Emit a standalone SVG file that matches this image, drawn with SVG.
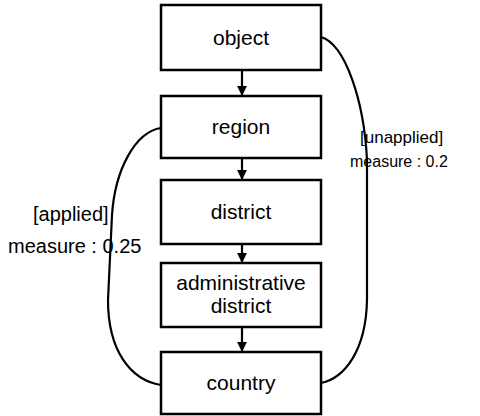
<svg xmlns="http://www.w3.org/2000/svg" width="480" height="416" viewBox="0 0 480 416">
<style>
.box{fill:#fff;stroke:#000;stroke-width:2.5}
.t{font-family:"Liberation Sans",Arial,sans-serif;font-size:21px;fill:#000;text-anchor:middle}
.lbl{font-family:"Liberation Sans",Arial,sans-serif;fill:#000}
.edge{fill:none;stroke:#000;stroke-width:2.2}
</style>
<defs>
<marker id="ah" viewBox="0 0 10 10" refX="10" refY="5" markerWidth="4.5" markerHeight="4.5" orient="auto" markerUnits="strokeWidth">
<path d="M0,0 L10,5 L0,10 z" fill="#000"/>
</marker>
</defs>
<rect width="480" height="416" fill="#fff"/>
<g id="connectors">
<line class="edge" x1="242" y1="70" x2="242" y2="96" marker-end="url(#ah)"/>
<line class="edge" x1="242" y1="158" x2="242" y2="180" marker-end="url(#ah)"/>
<line class="edge" x1="242" y1="244" x2="242" y2="263" marker-end="url(#ah)"/>
<line class="edge" x1="242" y1="327" x2="242" y2="352" marker-end="url(#ah)"/>
<path class="edge" d="M321,37 C345,44 364,100 367,160 L367,300 C366,350 345,378 321,383"/>
<path class="edge" d="M161,128 C135,132 115,170 112,215 L108,300 C108,350 130,380 161,385"/>
<text class="lbl" x="360" y="143" font-size="17">[unapplied]</text>
<text class="lbl" x="350" y="167" font-size="16">measure : 0.2</text>
<text class="lbl" x="33" y="221" font-size="20">[applied]</text>
<text class="lbl" x="8" y="253" font-size="20">measure : 0.25</text>
</g>
<g id="object"><rect class="box" x="161" y="5" width="160" height="65"/><text class="t" x="241" y="45">object</text></g>
<g id="region"><rect class="box" x="161" y="96" width="160" height="62"/><text class="t" x="241" y="134">region</text></g>
<g id="district"><rect class="box" x="161" y="180" width="160" height="64"/><text class="t" x="241" y="219">district</text></g>
<g id="administrative-district"><rect class="box" x="161" y="263" width="160" height="64"/><text class="t" x="241" y="290">administrative</text><text class="t" x="241" y="313">district</text></g>
<g id="country"><rect class="box" x="161" y="352" width="160" height="62"/><text class="t" x="241" y="390">country</text></g>
</svg>
